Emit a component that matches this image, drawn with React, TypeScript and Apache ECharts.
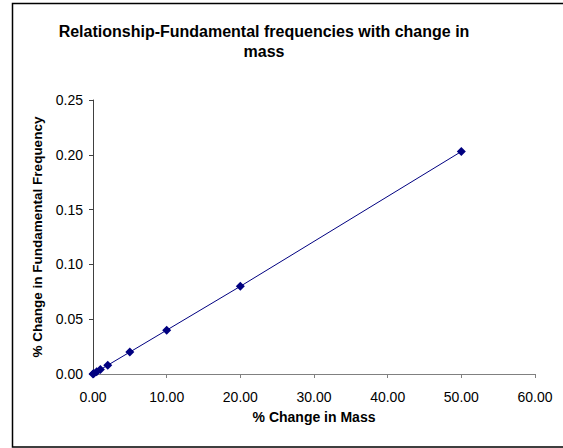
import React, { useEffect, useRef } from "react";
import * as echarts from "echarts";

const massChange = [0, 0.1, 0.5, 1, 2, 5, 10, 20, 50];
const freqChange = [0, 0.0004, 0.002, 0.004, 0.008, 0.02, 0.04, 0.08, 0.203];
const titleText = "Relationship-Fundamental frequencies with change in\nmass";
const xName = "% Change in Mass";
const yName = "% Change in Fundamental Frequency";

export default function App() {
  const ref = useRef<HTMLDivElement>(null);
  useEffect(() => {
    if (!ref.current) return;
    const chart = echarts.init(ref.current, null, { renderer: "svg" });
    const font = "Arial, 'Liberation Sans', sans-serif";
    chart.setOption({
      animation: false,
      backgroundColor: "#ffffff",
      title: {
        text: titleText,
        left: 259,
        top: 16,
        textAlign: "center",
        textStyle: { fontFamily: font, fontSize: 16, fontWeight: "bold", color: "#000", lineHeight: 20 },
      },
      graphic: [
        {
          type: "rect",
          shape: { x: 12.5, y: 3.5, width: 620, height: 443.5 },
          style: { fill: "none", stroke: "#000", lineWidth: 1.5 },
          silent: true,
        },
      ],
      grid: { left: 93, top: 100, right: 28, bottom: 74, containLabel: false },
      xAxis: {
        type: "value",
        min: 0,
        max: 60,
        interval: 10,
        name: xName,
        nameLocation: "middle",
        nameGap: 36,
        nameTextStyle: { fontFamily: font, fontSize: 14, fontWeight: "bold", color: "#000" },
        axisLine: { show: true, onZero: false, lineStyle: { color: "#808080", width: 1 } },
        axisTick: { show: true, inside: false, length: 4, lineStyle: { color: "#808080" } },
        axisLabel: {
          fontFamily: font,
          fontSize: 14,
          color: "#000",
          margin: 16,
          formatter: (v: number) => v.toFixed(2),
        },
        splitLine: { show: false },
      },
      yAxis: {
        type: "value",
        min: 0,
        max: 0.25,
        interval: 0.05,
        name: yName,
        nameLocation: "middle",
        nameGap: 47,
        nameTextStyle: { fontFamily: font, fontSize: 13.5, fontWeight: "bold", color: "#000" },
        axisLine: { show: true, lineStyle: { color: "#404040", width: 1 } },
        axisTick: { show: true, inside: false, length: 4, lineStyle: { color: "#404040" } },
        axisLabel: {
          fontFamily: font,
          fontSize: 14,
          color: "#000",
          margin: 10,
          formatter: (v: number) => v.toFixed(2),
        },
        splitLine: { show: false },
      },
      series: [
        {
          type: "line",
          data: massChange.map((m, i) => [m, freqChange[i]]),
          symbol: "diamond",
          symbolSize: 9,
          showAllSymbol: true,
          itemStyle: { color: "#000080" },
          lineStyle: { color: "#000080", width: 1 },
        },
      ],
    });
    return () => chart.dispose();
  }, []);
  return (
    <div
      ref={ref}
      style={{ position: "absolute", left: 0, top: 0, width: 563, height: 448 }}
    />
  );
}
